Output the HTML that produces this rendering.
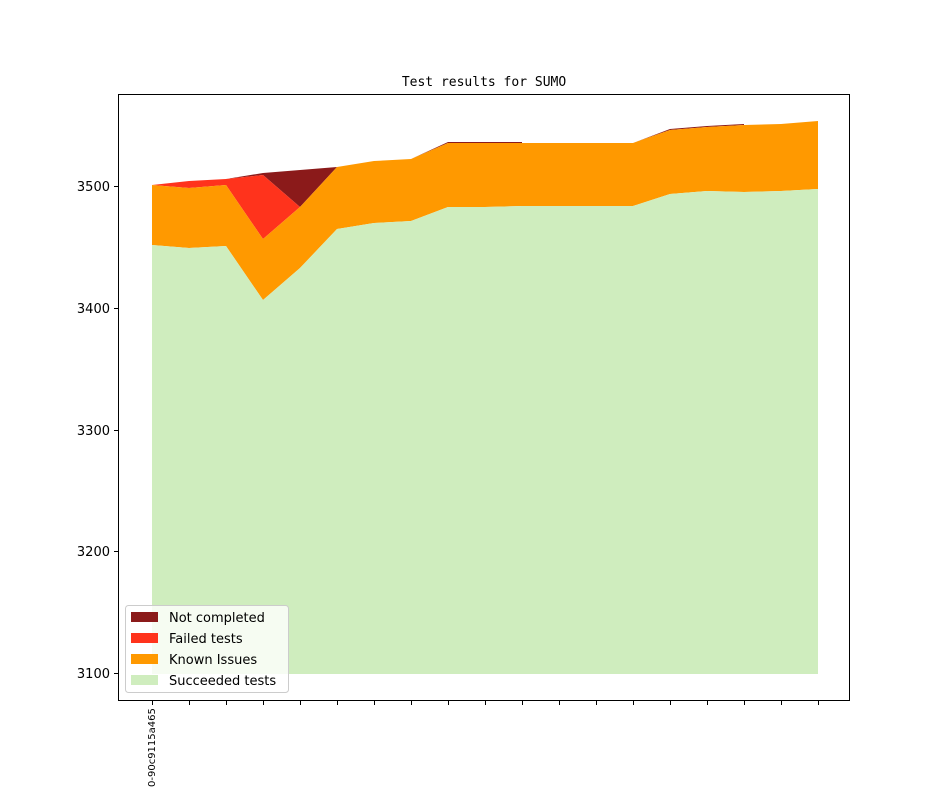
<!DOCTYPE html>
<html><head><style>body{margin:0;background:#fff}svg{display:block}</style></head><body>
<svg width="944" height="787" xmlns="http://www.w3.org/2000/svg" font-family="DejaVu Sans, Liberation Sans, sans-serif">
<rect width="944" height="787" fill="#fff"/>
<text x="484" y="86" text-anchor="middle" font-size="13" font-family="DejaVu Sans Mono, Liberation Mono, monospace">Test results for SUMO</text>
<!-- dark red (not completed) -->
<polygon fill="#8b1a1a" points="152,185 189,181 226,179 263,173 300,170 337,167 374,161 411,159 448,142 485,142 522,142 522,143 448,143 411,159 374,161 337,167 300,207 263,175 226,179 189,181 152,185"/>
<polygon fill="#8b1a1a" points="633,143 670,129 707,126 744,124 744,125 707,127 670,130 633,143"/>
<!-- failed -->
<polygon fill="#ff331c" points="152,185 189,181 226,179 263,175 300,207 263,239 226,185 189,188 152,185"/>
<!-- known issues -->
<polygon fill="#ff9900" points="152,185 189,188 226,185 263,239 300,207 337,167 374,161 411,159 448,143 485,143 522,143 559,143 596,143 633,143 670,130 707,127 744,125 781,124 818,121 818,189 781,191 744,192 707,191 670,194 633,206 596,206 559,206 522,206 485,207 448,207 411,221 374,223 337,229 300,268 263,300 226,246 189,248 152,245"/>
<!-- succeeded -->
<polygon fill="#cfedbe" points="152,245 189,248 226,246 263,300 300,268 337,229 374,223 411,221 448,207 485,207 522,206 559,206 596,206 633,206 670,194 707,191 744,192 781,191 818,189 818,674 152,674"/>
<rect x="118.5" y="94.5" width="731" height="606" fill="none" stroke="#000" stroke-width="1"/>
<g stroke="#000" stroke-width="1">
<line x1="114" y1="186.5" x2="118" y2="186.5"/><line x1="114" y1="308.5" x2="118" y2="308.5"/><line x1="114" y1="430.5" x2="118" y2="430.5"/><line x1="114" y1="551.5" x2="118" y2="551.5"/><line x1="114" y1="673.5" x2="118" y2="673.5"/>
<line x1="152.5" y1="701" x2="152.5" y2="705"/><line x1="189.5" y1="701" x2="189.5" y2="705"/><line x1="226.5" y1="701" x2="226.5" y2="705"/><line x1="263.5" y1="701" x2="263.5" y2="705"/><line x1="300.5" y1="701" x2="300.5" y2="705"/><line x1="337.5" y1="701" x2="337.5" y2="705"/><line x1="374.5" y1="701" x2="374.5" y2="705"/><line x1="411.5" y1="701" x2="411.5" y2="705"/><line x1="448.5" y1="701" x2="448.5" y2="705"/><line x1="485.5" y1="701" x2="485.5" y2="705"/><line x1="522.5" y1="701" x2="522.5" y2="705"/><line x1="559.5" y1="701" x2="559.5" y2="705"/><line x1="596.5" y1="701" x2="596.5" y2="705"/><line x1="633.5" y1="701" x2="633.5" y2="705"/><line x1="670.5" y1="701" x2="670.5" y2="705"/><line x1="707.5" y1="701" x2="707.5" y2="705"/><line x1="744.5" y1="701" x2="744.5" y2="705"/><line x1="781.5" y1="701" x2="781.5" y2="705"/><line x1="818.5" y1="701" x2="818.5" y2="705"/>
</g>
<g font-size="13" text-anchor="end">
<text x="110" y="191">3500</text><text x="110" y="313">3400</text><text x="110" y="435">3300</text><text x="110" y="556">3200</text><text x="110" y="678">3100</text>
</g>
<text transform="translate(155,787) rotate(-90)" font-size="10">0-90c9115a465</text>
<rect x="125.5" y="605.5" width="163" height="87" rx="3" fill="#fff" fill-opacity="0.8" stroke="#ccc"/>
<rect x="131" y="612" width="27" height="10" fill="#8b1a1a"/>
<rect x="131" y="633" width="27" height="10" fill="#ff331c"/>
<rect x="131" y="654" width="27" height="10" fill="#ff9900"/>
<rect x="131" y="675" width="27" height="10" fill="#cfedbe"/>
<g font-size="13" fill="#000">
<text x="169" y="622">Not completed</text><text x="169" y="643">Failed tests</text><text x="169" y="664">Known Issues</text><text x="169" y="685">Succeeded tests</text>
</g>
</svg>
</body></html>
